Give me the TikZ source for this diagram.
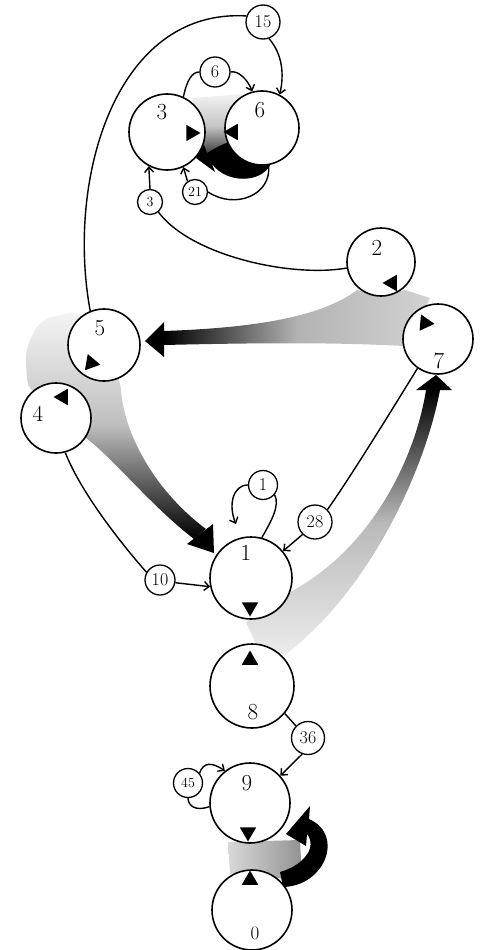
\documentclass[tikz,border=0pt]{standalone}
\usetikzlibrary{arrows.meta, shapes.geometric}

\tikzset{
  state/.style={circle, draw, line width=1.6pt, fill=white, inner sep=0pt},
  tag/.style={circle, draw, line width=1.3pt, fill=white, inner sep=0pt, font=\fontsize{18}{19}\selectfont},
  smalltag/.style={tag, font=\fontsize{14}{15}\selectfont},
  digit/.style={inner sep=0pt, font=\fontsize{23}{25}\selectfont},
  tri/.style={regular polygon, regular polygon sides=3, fill=black, inner sep=0pt, minimum size=19pt},
  link/.style={line width=1.4pt},
  feed/.style={link, -{Straight Barb[length=5pt,width=9pt]}}
}

\begin{document}
\begin{tikzpicture}[x=1pt, y=-1pt]
\useasboundingbox (0,0) rectangle (481,950);

% shaded flows (under the states)
\shade[top color=gray!10, bottom color=black!85, middle color=gray!45] (192,98) -- (242,94) -- (250,150) -- (205,158) -- cycle;
\fill (196,158) -- (204,145) -- (207,153) .. controls (220,145) and (235,138) .. (248,138) -- (265,150) -- (270,165) .. controls (262,182) and (228,185) .. (212,164) -- (215,172) -- cycle;
\shade[left color=black, right color=gray!35, middle color=gray!60] (164,331) .. controls (250,328) and (320,318) .. (357,290) -- (380,296) -- (405,290) -- (430,298) -- (420,320) -- (404,346) .. controls (330,342) and (250,343) .. (164,345) -- cycle;
\shade[rounded corners=12pt, top color=gray!8, bottom color=black, middle color=gray!50] (25,350) -- (40,320) -- (80,310) -- (120,378) [sharp corners] .. controls (125,440) and (160,495) .. (206,529) -- (194,539) .. controls (150,505) and (115,460) .. (86,438) [rounded corners=12pt] -- (55,400) -- (28,392) -- cycle;
\shade[top color=black, bottom color=gray!15, middle color=gray!55] (246,622) -- (255,642) -- (285,655) .. controls (370,590) and (425,470) .. (440,390) -- (426,390) .. controls (415,460) and (370,550) .. (290,592) -- (262,612) -- cycle;
\shade[left color=gray!30, right color=gray!85] (228,842) -- (300,840) -- (302,880) -- (230,874) -- cycle;
\fill (286,834) -- (310,806) -- (309,819) .. controls (345,835) and (325,886) .. (283,887) -- (280,872) .. controls (302,866) and (318,848) .. (307,834) -- (306,846) -- cycle;

% states
\node[state, minimum size=76pt] (s3) at (167,132) {};
\node[state, minimum size=74pt] (s6) at (262,128) {};
\node[state, minimum size=68pt] (s2) at (381,262) {};
\node[state, minimum size=70pt] (s7) at (438,339) {};
\node[state, minimum size=72pt] (s5) at (104,345) {};
\node[state, minimum size=70pt] (s4) at (56,418) {};
\node[state, minimum size=82pt] (s1) at (251,578) {};
\node[state, minimum size=84pt] (s8) at (252,686) {};
\node[state, minimum size=80pt] (s9) at (250,803) {};
\node[state, minimum size=80pt] (s0) at (252,910) {};

% big arrow heads
\fill (145,341) -- (164,322) -- (164,357) -- cycle;
\fill (214,553) -- (187,544) -- (213,524) -- cycle;
\fill (436,375) -- (416,390) -- (452,390) -- cycle;

% state numbers
\node[digit] (l3) at (162,112) {3};
\node[digit] (l6) at (260,110) {6};
\node[digit] (l2) at (377,248) {2};
\node[digit] (l7) at (439,361) {7};
\node[digit] (l5) at (100,328) {5};
\node[digit] (l4) at (38,414) {4};
\node[digit] (l1) at (246,553) {1};
\node[digit] (l8) at (253,712) {8};
\node[digit] (l9) at (247,783) {9};
\node[digit, font=\fontsize{19}{20}\selectfont] (l0) at (255,933) {0};

% direction marks
\node[tri, shape border rotate=-90] (t3) at (191,133) {};
\node[tri, shape border rotate=90] (t6) at (233,132) {};
\node[tri, shape border rotate=90] (t2) at (392,283) {};
\node[tri, shape border rotate=-95] (t7) at (425,323) {};
\node[tri, shape border rotate=-100] (t5) at (91,363) {};
\node[tri, shape border rotate=90] (t4) at (63,397) {};
\node[tri, shape border rotate=180] (t1) at (250,607) {};
\node[tri] (t8) at (250,660) {};
\node[tri, shape border rotate=180] (t9) at (248,832) {};
\node[tri] (t0) at (250,880) {};

% counts
\node[tag, minimum size=34pt] (n15) at (263,22) {15};
\node[tag, minimum size=30pt] (n6) at (215,72) {6};
\node[smalltag, minimum size=25pt] (n21) at (195,192) {21};
\node[smalltag, minimum size=25pt] (n3) at (150,202) {3};
\node[tag, minimum size=30pt] (n10) at (160,580) {10};
\node[tag, minimum size=29pt] (n1) at (263,485) {1};
\node[tag, minimum size=34pt] (n28) at (315,522) {28};
\node[tag, minimum size=33pt] (n36) at (308,738) {36};
\node[smalltag, minimum size=29pt] (n45) at (188,783) {45};
\coordinate (loop1) at (236,524);

% thin transitions
\draw[link] (s5.112) .. controls (66,180) and (115,8) .. (n15.160);
\draw[feed] (n15.290) .. controls (283,55) and (284,75) .. (s6.62);
\draw[link] (s3.65) .. controls (187,80) and (192,72) .. (n6.west);
\draw[feed] (n6.east) .. controls (238,70) and (248,80) .. (s6.105);
\draw[link] (s6.-80) .. controls (272,195) and (235,210) .. (n21.east);
\draw[feed] (n21.125) -- (s3.-65);
\draw[link] (s2.190) .. controls (290,278) and (190,255) .. (n3.-50);
\draw[feed] (n3.north) -- (s3.-118);
\draw[link] (s4.-75) .. controls (82,495) and (125,548) .. (n10.150);
\draw[feed] (n10.-10) -- (s1.192);
\draw[link] (s1.75) .. controls (272,520) and (280,505) .. (n1.-40);
\draw[feed] (n1.180) .. controls (233,485) and (228,505) .. (loop1);
\draw[link] (s7.-125) .. controls (398,400) and (350,478) .. (n28.45);
\draw[feed] (n28.225) -- (s1.40);
\draw[link] (s8.-40) -- (n36.135);
\draw[feed] (n36.-110) -- (s9.42);
\draw[link] (s9.185) .. controls (195,812) and (188,805) .. (n45.south);
\draw[feed] (n45.40) .. controls (203,762) and (212,762) .. (s9.128);
\end{tikzpicture}
\end{document}
